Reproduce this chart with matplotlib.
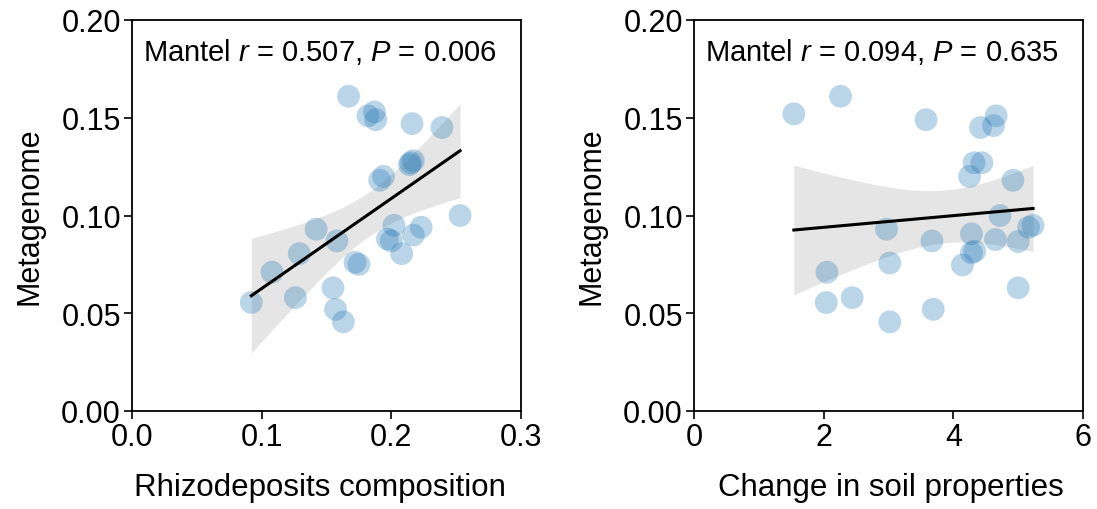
import numpy as np
import matplotlib
matplotlib.use("Agg")
import matplotlib.pyplot as plt

plt.rcParams["font.family"] = ["Liberation Sans", "DejaVu Sans"]
plt.rcParams["mathtext.fontset"] = "custom"
plt.rcParams["mathtext.rm"] = "Liberation Sans"
plt.rcParams["mathtext.it"] = "Liberation Sans:italic"

# metagenome dissimilarity (same samples in both panels)
rhizo_x = [0.167, 0.182, 0.187, 0.188, 0.216, 0.239, 0.215, 0.214, 0.217, 0.194,
           0.191, 0.253, 0.142, 0.158, 0.202, 0.223, 0.217, 0.197, 0.200, 0.208,
           0.129, 0.108, 0.172, 0.175, 0.092, 0.126, 0.155, 0.157, 0.163]
rhizo_y = [0.161, 0.151, 0.153, 0.149, 0.147, 0.145, 0.127, 0.126, 0.128, 0.120,
           0.118, 0.100, 0.093, 0.087, 0.095, 0.094, 0.090, 0.088, 0.087, 0.0805,
           0.0805, 0.071, 0.076, 0.075, 0.0555, 0.058, 0.063, 0.052, 0.0456]

soil_x = [1.54, 2.26, 3.58, 4.66, 4.42, 4.62, 4.32, 4.44, 4.25, 4.92,
          4.72, 2.97, 5.23, 5.16, 4.28, 3.67, 4.65, 5.00, 4.28, 4.33,
          3.02, 4.14, 2.05, 2.04, 2.44, 5.00, 3.69, 3.02]
soil_y = [0.152, 0.161, 0.149, 0.151, 0.145, 0.146, 0.127, 0.127, 0.120, 0.118,
          0.100, 0.093, 0.095, 0.094, 0.0906, 0.087, 0.0877, 0.0867, 0.081, 0.0817,
          0.0757, 0.0747, 0.071, 0.0555, 0.058, 0.063, 0.052, 0.0456]

panels = [
    dict(x=rhizo_x, y=rhizo_y, xlabel="Rhizodeposits composition",
         xlim=(0, 0.3), xticks=[0.0, 0.1, 0.2, 0.3], xfmt="{:.1f}",
         xlabel_x=0.483,
         note="Mantel $\\it{r}$ = 0.507, $\\it{P}$ = 0.006"),
    dict(x=soil_x, y=soil_y, xlabel="Change in soil properties",
         xlim=(0, 6), xticks=[0, 2, 4, 6], xfmt="{:.0f}",
         xlabel_x=0.505,
         note="Mantel $\\it{r}$ = 0.094, $\\it{P}$ = 0.635"),
]
yticks = [0.00, 0.05, 0.10, 0.15, 0.20]


def fit_with_ci(x, y, n=100):
    x = np.asarray(x)
    y = np.asarray(y)
    slope, icpt = np.polyfit(x, y, 1)
    grid = np.linspace(x.min(), x.max(), n)
    fit = icpt + slope * grid
    resid = y - (icpt + slope * x)
    dof = len(x) - 2
    s = np.sqrt(np.sum(resid ** 2) / dof)
    sxx = np.sum((x - x.mean()) ** 2)
    se = s * np.sqrt(1 / len(x) + (grid - x.mean()) ** 2 / sxx)
    t = 2.056  # t(0.975, 26)
    return grid, fit, fit - t * se, fit + t * se


fig = plt.figure(figsize=(10.97, 5.10), dpi=100)
lefts = [132 / 1097, 694 / 1097]

for left, p in zip(lefts, panels):
    ax = fig.add_axes([left, 98 / 510, 389 / 1097, 391 / 510])
    grid, fit, lo, hi = fit_with_ci(p["x"], p["y"])
    ax.fill_between(grid, lo, hi, color="#e5e5e5", lw=0, zorder=1)
    ax.scatter(p["x"], p["y"], s=270, color="#1f77b4", alpha=0.3,
               edgecolors="none", zorder=2)
    ax.plot(grid, fit, color="black", lw=2.2, zorder=3)

    ax.set_xlim(*p["xlim"])
    ax.set_ylim(0, 0.2)
    ax.set_xticks(p["xticks"])
    ax.set_xticklabels([p["xfmt"].format(v) for v in p["xticks"]])
    ax.set_yticks(yticks)
    ax.set_yticklabels(["{:.2f}".format(v) for v in yticks])
    ax.tick_params(direction="out", length=6, width=1.2, labelsize=22, pad=2)
    for sp in ax.spines.values():
        sp.set_linewidth(1.3)
    ax.set_xlabel(p["xlabel"], fontsize=22.5)
    ax.xaxis.set_label_coords(p["xlabel_x"], -0.155)
    ax.set_ylabel("Metagenome", fontsize=22, labelpad=12)
    ax.text(0.028, 0.92, p["note"], transform=ax.transAxes, fontsize=21,
            va="center", ha="left")

fig.savefig("out.png", dpi=100)
